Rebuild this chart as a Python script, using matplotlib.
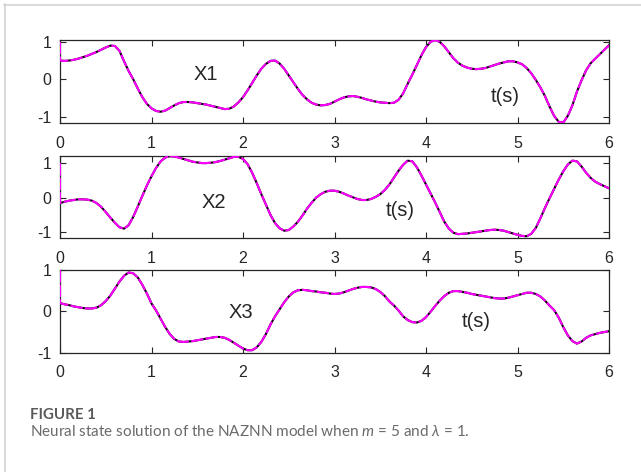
import matplotlib
matplotlib.use("Agg")
import matplotlib.pyplot as plt
from matplotlib.lines import Line2D

plt.rcParams["axes.unicode_minus"] = False
plt.rcParams["font.family"] = ["Liberation Sans", "DejaVu Sans"]
plt.rcParams["mathtext.fontset"] = "custom"
plt.rcParams["mathtext.it"] = "Lato:italic"
plt.rcParams["mathtext.rm"] = "Lato"

t = [i / 20 for i in range(121)]
x1 = [0.50, 0.49, 0.50, 0.52, 0.55, 0.59, 0.63, 0.68, 0.73, 0.79,
      0.85, 0.90, 0.89, 0.76, 0.48, 0.22, 0.00, -0.25, -0.48, -0.66,
      -0.78, -0.85, -0.87, -0.84, -0.77, -0.70, -0.64, -0.61, -0.61, -0.62,
      -0.64, -0.66, -0.68, -0.71, -0.74, -0.77, -0.80, -0.79, -0.73, -0.62,
      -0.48, -0.30, -0.10, 0.10, 0.28, 0.41, 0.49, 0.50, 0.42, 0.28,
      0.10, -0.08, -0.26, -0.42, -0.54, -0.63, -0.68, -0.70, -0.69, -0.66,
      -0.60, -0.54, -0.49, -0.46, -0.45, -0.47, -0.50, -0.54, -0.57, -0.60,
      -0.62, -0.63, -0.64, -0.63, -0.55, -0.38, -0.12, 0.12, 0.38, 0.64,
      0.86, 1.00, 1.05, 1.00, 0.88, 0.72, 0.56, 0.44, 0.36, 0.31,
      0.28, 0.27, 0.28, 0.30, 0.34, 0.38, 0.42, 0.45, 0.48, 0.48,
      0.45, 0.40, 0.30, 0.16, -0.02, -0.22, -0.45, -0.73, -0.98, -1.14,
      -1.16, -0.98, -0.70, -0.33, -0.03, 0.24, 0.43, 0.55, 0.67, 0.79,
      0.91]
x2 = [-0.16, -0.12, -0.09, -0.07, -0.05, -0.05, -0.06, -0.09, -0.16, -0.27,
      -0.42, -0.58, -0.73, -0.86, -0.90, -0.80, -0.56, -0.26, 0.05, 0.35,
      0.62, 0.86, 1.05, 1.16, 1.20, 1.19, 1.16, 1.12, 1.08, 1.04,
      1.02, 1.00, 1.00, 1.01, 1.03, 1.06, 1.10, 1.14, 1.18, 1.18,
      1.12, 0.97, 0.72, 0.42, 0.10, -0.20, -0.50, -0.74, -0.89, -0.96,
      -0.94, -0.84, -0.70, -0.52, -0.32, -0.15, 0.00, 0.10, 0.17, 0.20,
      0.20, 0.17, 0.12, 0.06, 0.01, -0.04, -0.07, -0.07, -0.04, 0.02,
      0.10, 0.22, 0.38, 0.58, 0.78, 0.95, 1.07, 1.05, 0.88, 0.64,
      0.38, 0.12, -0.14, -0.42, -0.70, -0.90, -1.02, -1.06, -1.05, -1.04,
      -1.02, -1.00, -0.98, -0.96, -0.94, -0.93, -0.94, -0.96, -1.00, -1.04,
      -1.08, -1.11, -1.12, -1.05, -0.88, -0.60, -0.30, -0.02, 0.25, 0.52,
      0.76, 0.96, 1.07, 1.05, 0.90, 0.72, 0.57, 0.46, 0.39, 0.33,
      0.27]
x3 = [0.20, 0.17, 0.15, 0.12, 0.10, 0.08, 0.07, 0.07, 0.09, 0.15,
      0.25, 0.38, 0.55, 0.72, 0.86, 0.94, 0.92, 0.82, 0.64, 0.43,
      0.19, 0.02, -0.18, -0.38, -0.55, -0.67, -0.73, -0.74, -0.73, -0.72,
      -0.70, -0.68, -0.66, -0.64, -0.62, -0.62, -0.64, -0.69, -0.76, -0.83,
      -0.90, -0.94, -0.94, -0.87, -0.74, -0.55, -0.32, -0.12, 0.05, 0.22,
      0.36, 0.46, 0.51, 0.52, 0.51, 0.49, 0.48, 0.46, 0.45, 0.43,
      0.42, 0.43, 0.46, 0.50, 0.54, 0.57, 0.59, 0.59, 0.58, 0.54,
      0.47, 0.37, 0.24, 0.14, 0.02, -0.12, -0.21, -0.26, -0.27, -0.23,
      -0.14, -0.01, 0.13, 0.26, 0.37, 0.45, 0.49, 0.49, 0.47, 0.45,
      0.42, 0.40, 0.38, 0.36, 0.34, 0.32, 0.31, 0.31, 0.33, 0.36,
      0.39, 0.42, 0.45, 0.45, 0.42, 0.36, 0.26, 0.14, 0.03, -0.15,
      -0.38, -0.58, -0.72, -0.78, -0.73, -0.64, -0.58, -0.55, -0.52, -0.50,
      -0.48]
x_init = 1.0  # neural state initial value (magenta starts here)
names = ["X1", "X2", "X3"]
ylims = [(-1.18, 1.05), (-1.18, 1.22), (-1.0, 1.0)]
name_pos = [(1.59, 0.12), (1.68, -0.13), (1.98, -0.02)]
ts_pos = [(4.87, -0.45), (3.72, -0.37), (4.55, -0.24)]

W, H = 641, 472
fig = plt.figure(figsize=(W / 100, H / 100), dpi=100)
boxes = [(40, 123.3), (155.5, 238.3), (270, 352.7)]

for k, (y, (top, bot)) in enumerate(zip([x1, x2, x3], boxes)):
    ax = fig.add_axes([60 / W, 1 - bot / H, 549 / W, (bot - top) / H])
    ax.plot(t, y, color="black", lw=1.5, zorder=2)
    ax.plot([0] + t, [x_init] + y, color="#ff00ff", lw=1.5, ls=(0, (6, 1)), zorder=3)
    ax.set_xlim(0, 6)
    ax.set_ylim(*ylims[k])
    ax.set_xticks(range(7))
    ax.set_yticks([-1, 0, 1])
    ax.tick_params(direction="in", top=True, right=True, length=4, width=0.8,
                   labelsize=11.5, colors="#262626")
    ax.tick_params(axis="x", pad=9)
    ax.tick_params(axis="y", pad=6)
    for s in ax.spines.values():
        s.set_color("#262626")
        s.set_linewidth(0.9)
    ax.text(*name_pos[k], names[k], fontsize=14.5, ha="center", va="center", color="#262626")
    ax.text(*ts_pos[k], "t(s)", fontsize=14.5, ha="center", va="center", color="#262626")

# light grey frame of the figure panel
fig.add_artist(Line2D([4 / W, 1], [1 - 4.5 / H] * 2, color="#d3d3d3", lw=1.2))
fig.add_artist(Line2D([4.5 / W] * 2, [0, 1 - 4 / H], color="#d3d3d3", lw=1.2))

fig.text(30 / W, 1 - 415 / H, "FIGURE 1", fontsize=10.8, fontweight="bold",
         family="Lato", color="#5a5a5a", va="center")
fig.text(30 / W, 1 - 431 / H, r"Neural state solution of the NAZNN model when $m$ = 5 and $\lambda$ = 1.",
         fontsize=11, family="Lato", color="#6a6a6a", va="center")

fig.savefig("out.png", dpi=100)
